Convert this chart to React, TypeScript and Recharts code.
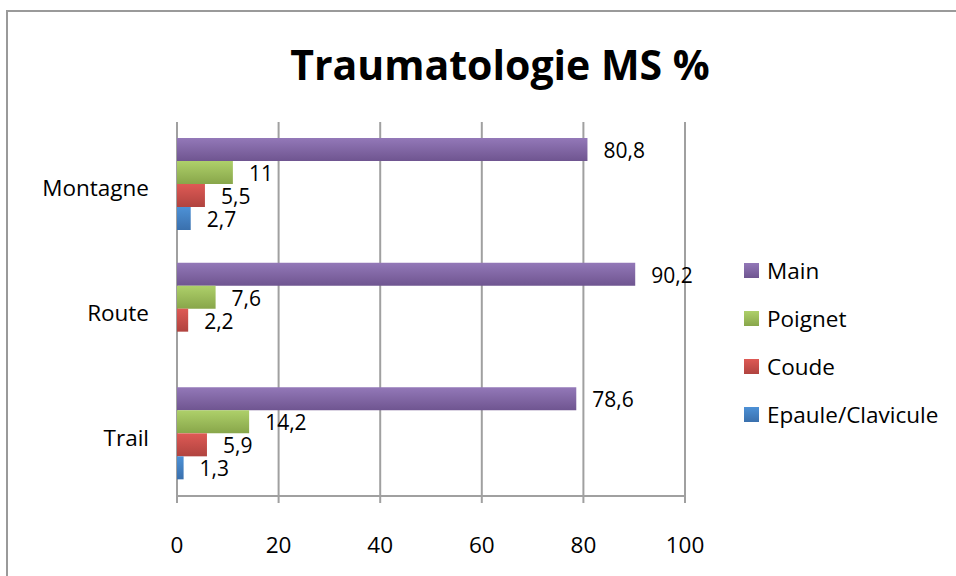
import React from 'react';
import {
  BarChart,
  Bar,
  XAxis,
  YAxis,
  CartesianGrid,
  LabelList,
} from 'recharts';

const categories = ['Montagne', 'Route', 'Trail'];
const mainValues = [80.8, 90.2, 78.6];
const poignetValues = [11, 7.6, 14.2];
const coudeValues = [5.5, 2.2, 5.9];
const epauleValues: Array<number | null> = [2.7, null, 1.3];
const xTicks = [0, 20, 40, 60, 80, 100];

const series = [
  { key: 'main', name: 'Main', top: '#9378b8', bottom: '#6f5590' },
  { key: 'poignet', name: 'Poignet', top: '#aed06a', bottom: '#88a64a' },
  { key: 'coude', name: 'Coude', top: '#de5a55', bottom: '#b0433f' },
  { key: 'epaule', name: 'Epaule/Clavicule', top: '#4d91d6', bottom: '#3a70ad' },
];

const data = categories.map((name, i) => ({
  name,
  main: mainValues[i],
  poignet: poignetValues[i],
  coude: coudeValues[i],
  epaule: epauleValues[i],
}));

const font = '"Open Sans", "Noto Sans", sans-serif';
const fontSize = 22.5;
const gridColor = '#a0a0a0';

const fmt = (v: number) => String(v).replace('.', ',');

const BarLabel = (props: any) => {
  const { x, y, width, height, value } = props;
  if (value === null || value === undefined) return null;
  return (
    <text
      x={x + width + 16}
      y={y + height / 2 + 3}
      fontSize={21}
      fontFamily={font}
      fill="#000"
      dominantBaseline="middle"
    >
      {fmt(value)}
    </text>
  );
};

const CategoryTick = (props: any) => {
  const { x, y, payload } = props;
  return (
    <text x={x} y={y + 6} textAnchor="end" dominantBaseline="middle" fontSize={fontSize} fontFamily={font} fill="#000">
      {payload.value}
    </text>
  );
};

export default function App() {
  return (
    <div style={{ position: 'fixed', left: 0, top: 0, width: 956, height: 576, background: '#fff', overflow: 'hidden' }}>
      <div
        style={{
          position: 'absolute',
          left: 6,
          top: 10,
          width: 956,
          height: 580,
          border: '2px solid #9a9a9a',
          boxSizing: 'border-box',
        }}
      />
      <div
        style={{
          position: 'absolute',
          left: 0,
          top: 34,
          width: 1000,
          textAlign: 'center',
          fontFamily: font,
          fontWeight: 700,
          fontSize: 41,
          lineHeight: '60px',
          color: '#000',
        }}
      >
        Traumatologie MS %
      </div>
      <div style={{ position: 'absolute', left: 0, top: 0 }}>
        <BarChart
          width={956}
          height={576}
          data={data}
          layout="vertical"
          margin={{ top: 122, right: 271, bottom: 20, left: 37 }}
          barCategoryGap={16}
          barGap={0}
        >
          <defs>
            {series.map((s) => (
              <linearGradient key={s.key} id={`g-${s.key}`} x1="0" y1="0" x2="0" y2="1">
                <stop offset="0%" stopColor={s.top} />
                <stop offset="100%" stopColor={s.bottom} />
              </linearGradient>
            ))}
          </defs>
          <CartesianGrid horizontal={false} stroke={gridColor} strokeWidth={2} />
          <XAxis
            type="number"
            domain={[0, 100]}
            ticks={xTicks}
            height={60}
            tickSize={7}
            tickMargin={34}
            axisLine={{ stroke: gridColor, strokeWidth: 2 }}
            tickLine={{ stroke: gridColor, strokeWidth: 2 }}
            tick={{ fontSize, fontFamily: font, fill: '#000' }}
          />
          <YAxis
            yAxisId="frame"
            type="number"
            domain={[0, 3]}
            ticks={[0, 1, 2, 3]}
            width={0}
            tick={false}
            tickSize={9}
            axisLine={{ stroke: gridColor, strokeWidth: 2 }}
            tickLine={{ stroke: gridColor, strokeWidth: 2 }}
          />
          <YAxis
            yAxisId="cat"
            type="category"
            dataKey="name"
            width={140}
            axisLine={false}
            tickLine={false}
            tickSize={0}
            tickMargin={28}
            tick={<CategoryTick />}
          />
          {series.map((s) => (
            <Bar
              key={s.key}
              yAxisId="cat"
              dataKey={s.key}
              name={s.name}
              fill={`url(#g-${s.key})`}
              barSize={23}
              isAnimationActive={false}
            >
              <LabelList dataKey={s.key} content={<BarLabel />} />
            </Bar>
          ))}
        </BarChart>
      </div>
      <div style={{ position: 'absolute', left: 744, top: 246, fontFamily: font, fontSize, color: '#000' }}>
        {series.map((s) => (
          <div key={s.key} style={{ display: 'flex', alignItems: 'center', height: 48 }}>
            <span
              style={{
                display: 'inline-block',
                width: 15,
                height: 15,
                marginRight: 8,
                background: `linear-gradient(${s.top}, ${s.bottom})`,
              }}
            />
            {s.name}
          </div>
        ))}
      </div>
    </div>
  );
}
